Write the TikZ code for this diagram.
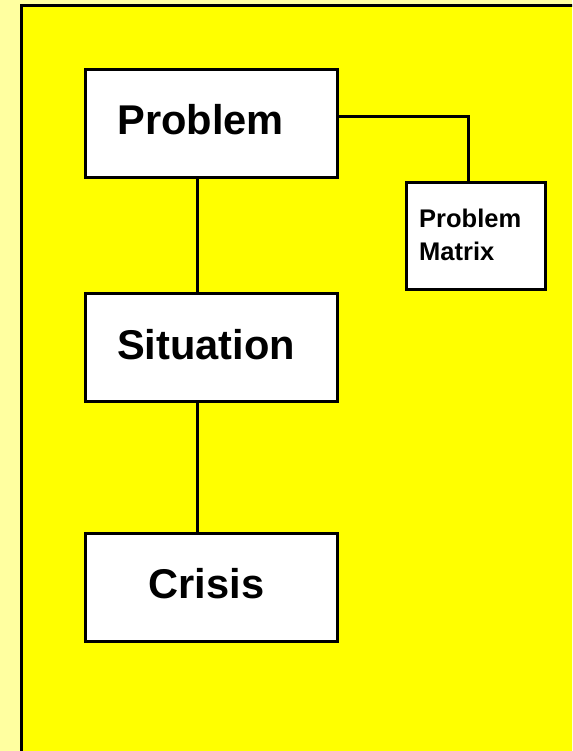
\documentclass[tikz,border=0pt]{standalone}
\usepackage{fontspec}
\setmainfont{Liberation Sans}
\definecolor{paleyellow}{HTML}{FFFFA0}
\definecolor{mainyellow}{HTML}{FFFF00}
\tikzset{
  box/.style={draw=black, line width=3pt, fill=white, rectangle, inner sep=0pt},
  bigbox/.style={box, minimum width=252pt, minimum height=108pt},
  bigtext/.style={font=\bfseries\fontsize{41.6}{50}\selectfont, inner sep=0pt, anchor=base},
  smalltext/.style={font=\bfseries\fontsize{25.5}{32.4}\selectfont, inner sep=0pt, align=left, anchor=north west},
  link/.style={draw=black, line width=3pt}
}
\begin{document}
\begin{tikzpicture}[x=1pt, y=-1pt]
  \useasboundingbox (0,0) rectangle (572,751);
  \clip (0,0) rectangle (572,751);
  % page background and the framed yellow panel
  \fill[paleyellow] (0,0) rectangle (572,751);
  \filldraw[fill=mainyellow, draw=black, line width=3pt] (21.5,5.5) rectangle (600,790);

  % main boxes
  \node[bigbox] (problem)   at (211.5,123.5) {};
  \node[bigbox] (situation) at (211.5,347.5) {};
  \node[bigbox] (crisis)    at (211.5,587)   {};
  \node[box, minimum width=139pt, minimum height=107pt] (matrix) at (476,236) {};

  % labels
  \node[bigtext] (problemtext)   at (200.5,135)   {Problem};
  \node[bigtext] (situationtext) at (206,359)     {Situation};
  \node[bigtext] (crisistext)    at (206.5,598.3) {Crisis};
  \node[smalltext] (matrixtext)  at (419,209)     {Problem\\Matrix};

  % connectors
  \draw[link] ([xshift=-14.5pt]problem.south) -- ([xshift=-14.5pt]situation.north);
  \draw[link] ([xshift=-14.5pt]situation.south) -- ([xshift=-14.5pt]crisis.north);
  \draw[link] ([yshift=6.5pt]problem.east) -| ([xshift=-8pt]matrix.north);
\end{tikzpicture}
\end{document}
